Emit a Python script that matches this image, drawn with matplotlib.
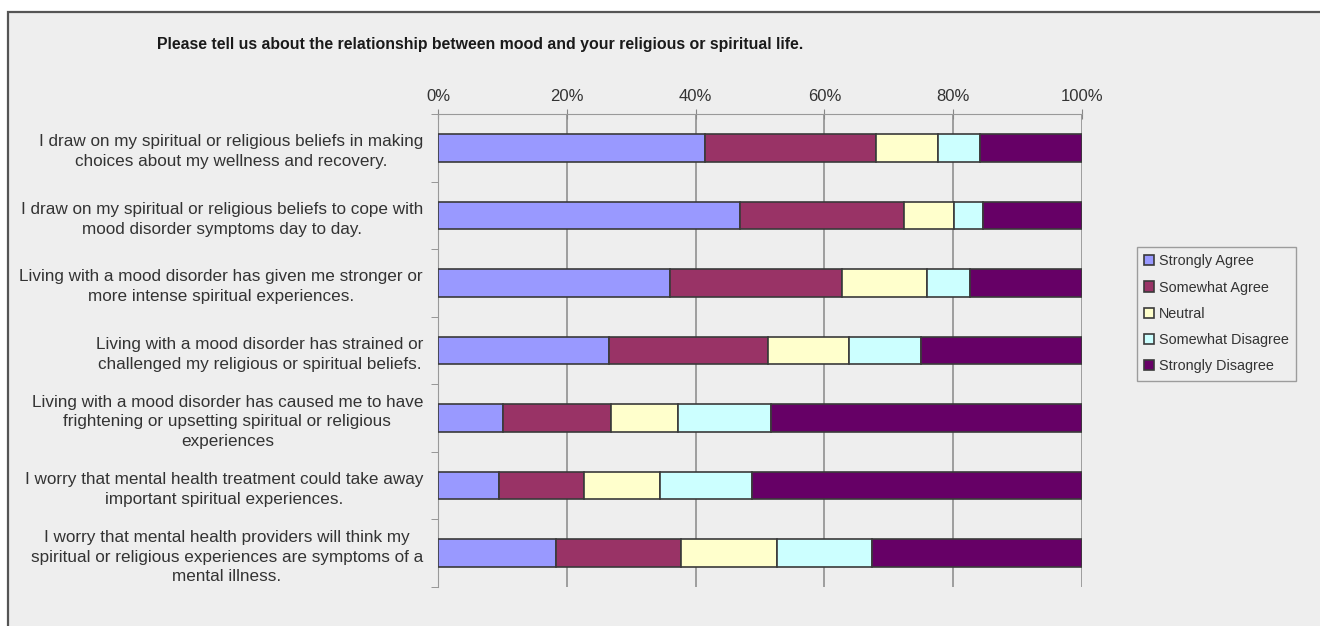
import numpy as np
import matplotlib
matplotlib.use("Agg")
import matplotlib.pyplot as plt
from matplotlib.patches import Rectangle
from matplotlib.ticker import FixedLocator, FuncFormatter

plt.rcParams['font.family'] = ['Liberation Sans', 'DejaVu Sans']

title = "Please tell us about the relationship between mood and your religious or spiritual life."

questions = [
    "I draw on my spiritual or religious beliefs in making\nchoices about my wellness and recovery.",
    "I draw on my spiritual or religious beliefs to cope with\nmood disorder symptoms day to day.",
    "Living with a mood disorder has given me stronger or\nmore intense spiritual experiences.",
    "Living with a mood disorder has strained or\nchallenged my religious or spiritual beliefs.",
    "Living with a mood disorder has caused me to have\nfrightening or upsetting spiritual or religious\nexperiences",
    "I worry that mental health treatment could take away\nimportant spiritual experiences.",
    "I worry that mental health providers will think my\nspiritual or religious experiences are symptoms of a\nmental illness.",
]

responses = ["Strongly Agree", "Somewhat Agree", "Neutral", "Somewhat Disagree", "Strongly Disagree"]

# percent of respondents
strongly_agree = [41.5, 46.9, 36.1, 26.6, 10.1, 9.5, 18.3]
somewhat_agree = [26.5, 25.5, 26.6, 24.7, 16.8, 13.2, 19.5]
neutral = [9.6, 7.8, 13.2, 12.5, 10.4, 11.7, 14.8]
somewhat_disagree = [6.6, 4.4, 6.7, 11.2, 14.4, 14.4, 14.8]
strongly_disagree = [15.8, 15.4, 17.4, 25.0, 48.3, 51.2, 32.6]

colors = ["#9999FF", "#993366", "#FFFFCC", "#CCFFFF", "#660066"]

W, H = 1320, 626
fig = plt.figure(figsize=(W / 100, H / 100), dpi=100, facecolor="white")

# grey panel with a border on the top and left
fig.patches.append(Rectangle((8 / W, -0.01), 1 - 8 / W + 0.01, 1 - 12 / H + 0.01,
                             transform=fig.transFigure, facecolor="#EEEEEE",
                             edgecolor="#555555", linewidth=1.6, zorder=-5))

ax = fig.add_axes([438 / W, 1 - 587 / H, (1082 - 438) / W, (587 - 114) / H])
ax.set_facecolor("none")

series = [strongly_agree, somewhat_agree, neutral, somewhat_disagree, strongly_disagree]
y = np.arange(len(questions))
left = np.zeros(len(questions))
for name, vals, c in zip(responses, series, colors):
    vals = np.array(vals)
    ax.barh(y, vals, left=left, height=0.41, color=c, edgecolor="#3a3a3a", linewidth=1.2,
            label=name, zorder=3)
    left += vals

ax.set_xlim(0, 100)
ax.set_ylim(len(questions) - 0.5, -0.5)

ax.xaxis.tick_top()
ax.set_xticks([0, 20, 40, 60, 80, 100])
ax.xaxis.set_major_formatter(FuncFormatter(lambda v, p: f"{v:.0f}%"))
ax.tick_params(axis="x", direction="inout", length=7, color="#888888", labelsize=12,
               labelcolor="#333333", pad=4)
ax.grid(axis="x", color="#888888", linewidth=1.1, zorder=1)

ax.set_yticks(y)
ax.set_yticklabels(questions, multialignment="center", fontsize=12.3, color="#333333",
                   linespacing=1.4)
ax.tick_params(axis="y", which="major", length=0, pad=10.8)
ax.yaxis.set_minor_locator(FixedLocator(np.arange(-0.5, len(questions), 1)))
ax.tick_params(axis="y", which="minor", direction="out", length=5, color="#888888")

for s in ["bottom", "right"]:
    ax.spines[s].set_visible(False)
ax.spines["top"].set_color("#999999")
ax.spines["left"].set_color("#999999")

fig.text(157 / W, 1 - 44 / H, title, fontsize=11.4, fontweight="bold", color="#1a1a1a",
         ha="left", va="center")

leg = ax.legend(loc="upper left", bbox_to_anchor=(1137 / W, 1 - 247 / H),
                bbox_transform=fig.transFigure, frameon=True, fancybox=False,
                fontsize=10.4, handlelength=0.7, handleheight=0.7, handletextpad=0.3,
                labelspacing=0.85, borderpad=0.5, borderaxespad=0)
leg.get_frame().set_facecolor("#EEEEEE")
leg.get_frame().set_edgecolor("#888888")
for t in leg.get_texts():
    t.set_color("#333333")

fig.savefig("out.png", dpi=100, facecolor=fig.get_facecolor())
